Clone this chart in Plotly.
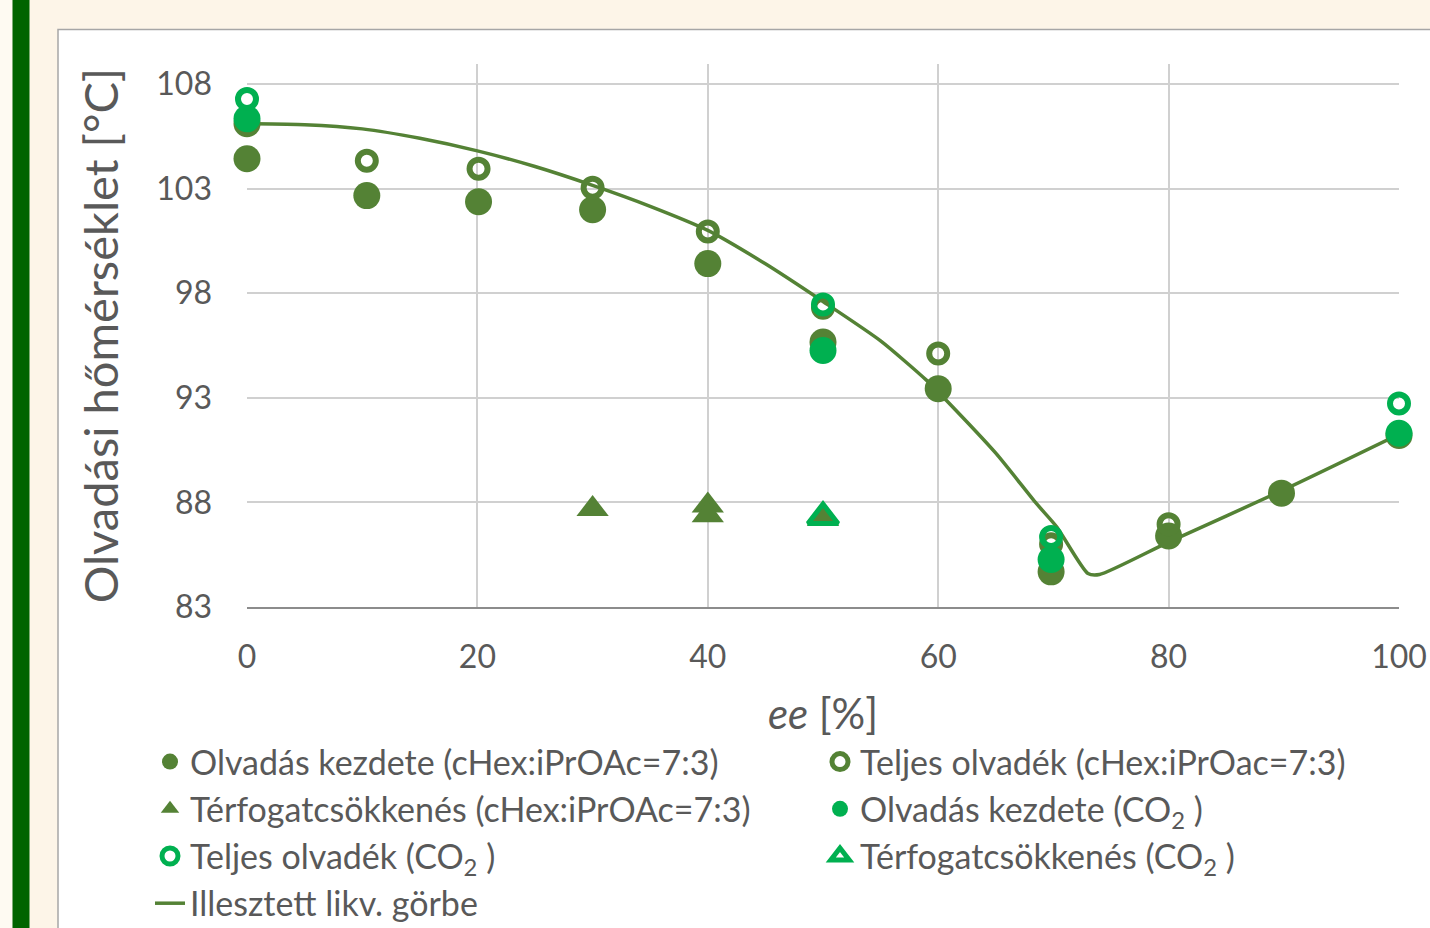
import plotly.graph_objects as go

# ---- data ----
onset_chex_x = [0, 0, 10.4, 20.1, 30, 40, 50, 60, 69.8, 80, 89.8, 100]
onset_chex_y = [104.42, 106.1, 102.66, 102.37, 101.99, 99.41, 95.66, 93.43, 84.68, 86.39, 88.44, 91.2]

full_chex_x = [10.4, 20.1, 30, 40, 50, 60, 69.8, 80]
full_chex_y = [104.33, 103.94, 103.04, 100.94, 97.3, 95.12, 86.0, 86.95]

vol_chex_x = [30, 40, 40, 50]
vol_chex_y = [87.68, 87.85, 87.39, 87.2]

onset_co2_x = [0, 50, 69.8, 100]
onset_co2_y = [106.33, 95.26, 85.27, 91.3]

full_co2_x = [0, 50, 69.8, 100]
full_co2_y = [107.28, 97.46, 86.35, 92.73]

vol_co2_x = [50]
vol_co2_y = [87.3]

curve_x = [0, 5, 10, 15, 20, 25, 30, 35, 40, 45, 50, 55, 59, 60.7, 65, 68.5, 70.3, 73, 74, 80, 90, 100]
curve_y = [106.1, 106.05, 105.85, 105.4, 104.8, 104.05, 103.15, 102.15, 101.0, 99.4, 97.6, 95.72,
           93.83, 92.88, 90.35, 87.96, 86.82, 84.6, 84.55, 86.1, 88.6, 91.25]

x_ticks = [0, 20, 40, 60, 80, 100]
y_ticks = [83, 88, 93, 98, 103, 108]

names = [
    "Olvadás kezdete (cHex:iPrOAc=7:3)",
    "Teljes olvadék (cHex:iPrOac=7:3)",
    "Térfogatcsökkenés (cHex:iPrOAc=7:3)",
    "Olvadás kezdete (CO<sub>2</sub> )",
    "Teljes olvadék (CO<sub>2</sub> )",
    "Térfogatcsökkenés (CO<sub>2</sub> )",
    "Illesztett likv. görbe",
]

DARK = "#548235"
BRIGHT = "#00B050"
TEXT = "#595959"
FONT = "Lato, Carlito, sans-serif"

fig = go.Figure()

fig.add_trace(go.Scatter(x=curve_x, y=curve_y, mode="lines", name=names[6],
                         line=dict(color=DARK, width=3.5, shape="spline", smoothing=0.6),
                         legendrank=7, cliponaxis=False))
fig.add_trace(go.Scatter(x=onset_chex_x, y=onset_chex_y, mode="markers", name=names[0],
                         marker=dict(symbol="circle", size=27, color=DARK), legendrank=1, cliponaxis=False))
fig.add_trace(go.Scatter(x=full_chex_x, y=full_chex_y, mode="markers", name=names[1],
                         marker=dict(symbol="circle-open", size=18, color=DARK,
                                     line=dict(color=DARK, width=6)), legendrank=2, cliponaxis=False))
fig.add_trace(go.Scatter(x=vol_chex_x, y=vol_chex_y, mode="markers", name=names[2],
                         marker=dict(symbol="triangle-up", size=28, color=DARK), legendrank=3, cliponaxis=False))
fig.add_trace(go.Scatter(x=onset_co2_x, y=onset_co2_y, mode="markers", name=names[3],
                         marker=dict(symbol="circle", size=27, color=BRIGHT), legendrank=4, cliponaxis=False))
fig.add_trace(go.Scatter(x=full_co2_x, y=full_co2_y, mode="markers", name=names[4],
                         marker=dict(symbol="circle-open", size=18, color=BRIGHT,
                                     line=dict(color=BRIGHT, width=6)), legendrank=5, cliponaxis=False))
fig.add_trace(go.Scatter(x=vol_co2_x, y=vol_co2_y, mode="markers", name=names[5],
                         marker=dict(symbol="triangle-up-open", size=26, color=BRIGHT,
                                     line=dict(color=BRIGHT, width=5)), legendrank=6, cliponaxis=False))

L, R, T, B = 247, 31, 64, 321
W, H = 1430, 928
pw, ph = W - L - R, H - T - B

def px(xp):
    return (xp - L) / pw

def py(yp):
    return (H - B - yp) / ph

shapes = [
    dict(type="rect", xref="paper", yref="paper", x0=px(-5), x1=px(12.5), y0=py(-5), y1=py(H + 5),
         fillcolor="#FEFAF2", line=dict(width=0), layer="below"),
    dict(type="rect", xref="paper", yref="paper", x0=px(12.5), x1=px(29.5), y0=py(-5), y1=py(H + 5),
         fillcolor="#006400", line=dict(width=0), layer="below"),
    dict(type="rect", xref="paper", yref="paper", x0=px(58), x1=px(W + 20), y0=py(29.5), y1=py(H + 20),
         fillcolor="white", line=dict(color="#A6A6A6", width=1.5), layer="below"),
]

fig.update_layout(
    width=W, height=H,
    margin=dict(l=L, r=R, t=T, b=B, autoexpand=False),
    paper_bgcolor="#FDF5E8",
    plot_bgcolor="white",
    font=dict(family=FONT, color=TEXT, size=30),
    shapes=shapes,
    showlegend=True,
    legend=dict(
        orientation="h",
        x=px(150), y=py(733), xanchor="left", yanchor="top",
        entrywidth=625, entrywidthmode="pixels",
        font=dict(family=FONT, size=34, color=TEXT),
        bgcolor="rgba(0,0,0,0)",
        traceorder="normal",
    ),
    xaxis=dict(
        range=[0, 100], tickvals=x_ticks, showgrid=True, gridcolor="#D0D0D0", gridwidth=1.5,
        zeroline=False, showline=True, linecolor="#8C8C8C", linewidth=2,
        ticks="", ticklabelstandoff=21,
        tickfont=dict(family=FONT, size=32, color=TEXT),
        title=dict(text="<i>ee</i> [%]", font=dict(family=FONT, size=42, color=TEXT), standoff=25),
    ),
    yaxis=dict(
        range=[83, 108.95], tickvals=y_ticks, showgrid=True, gridcolor="#D0D0D0", gridwidth=1.5,
        zeroline=False, showline=False,
        ticks="", ticklabelstandoff=34,
        tickfont=dict(family=FONT, size=32, color=TEXT),
        title=dict(text="Olvadási hőmérséklet [°C]", font=dict(family=FONT, size=47, color=TEXT), standoff=22),
    ),
)

fig.write_html("out.html", config={"displayModeBar": False},
               post_script="document.body.style.margin='0';document.body.style.overflow='hidden';")
